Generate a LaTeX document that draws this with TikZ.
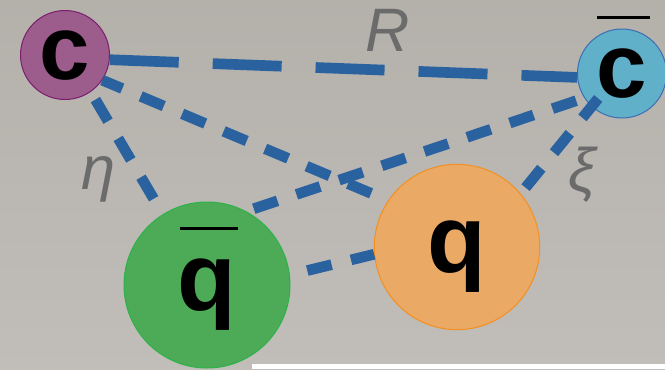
\documentclass[tikz,border=0pt]{standalone}
\usepackage{fontspec}
\setmainfont{Liberation Sans}
\definecolor{bgtop}{HTML}{B4B0AA}
\definecolor{bgbot}{HTML}{C1BDB9}
\definecolor{linkblue}{HTML}{2A62A0}
\definecolor{labelgray}{HTML}{6B6B6B}
\definecolor{cfill}{HTML}{9C5C8C}
\definecolor{cborder}{HTML}{7B1E6E}
\definecolor{cbfill}{HTML}{5FB0C8}
\definecolor{cbborder}{HTML}{3D6EB4}
\definecolor{qbfill}{HTML}{4DAB57}
\definecolor{qbborder}{HTML}{2BB24A}
\definecolor{qfill}{HTML}{EBA966}
\definecolor{qborder}{HTML}{F39020}
\newcommand{\bartop}[4]{\rlap{\hspace*{#1}\smash{\rule[#3]{#2}{2.2pt}}}#4}
\tikzset{
  ball/.style={circle, inner sep=0pt, line width=0.75pt, text depth=0pt, font=\bfseries\fontsize{68}{68}\selectfont},
  bigball/.style={ball, font=\bfseries\fontsize{72}{72}\selectfont},
  link/.style={draw=linkblue, line width=8pt, dash pattern=on 18.75pt off 15pt},
  rlink/.style={draw=linkblue, line width=8pt, dash pattern=on 51.75pt off 25.5pt},
  sym/.style={text=labelgray, inner sep=0pt, font=\itshape\fontsize{46}{46}\selectfont}
}
\begin{document}
\begin{tikzpicture}[x=0.75pt, y=-0.75pt]
\useasboundingbox (0,0) rectangle (665,369);
\shade[top color=bgtop, bottom color=bgbot] (0,0) rectangle (665,369);
\fill[white] (252,364) rectangle (665,369);
% quarks
\node[ball, draw=cborder, fill=cfill, minimum size=66.75pt] (c) at (65,55) {c};
\node[ball, draw=cbborder, fill=cbfill, minimum size=66.75pt] (cb) at (622,73.5) {\bartop{0pt}{39.75pt}{59.5pt}{c}};
\node[bigball, draw=qbborder, fill=qbfill, minimum size=124.5pt] (qb) at (207,285) {\bartop{1.9pt}{43.5pt}{61pt}{q}};
\node[bigball, draw=qborder, fill=qfill, minimum size=124pt] (q) at (457,247) {q};
% labels
\node[sym] (R) at (388,30) {R};
\node[sym] (eta) at (99,179) {η};
\node[sym] (xi) at (582,175) {ξ};
% links
\draw[rlink] (c.-6) -- (cb.185);
\draw[link, dash phase=2.5pt] (c.-34) -- (q.146);
\draw[link, dash phase=27pt] (c.-55) -- (qb.122);
\draw[link, dash phase=27.75pt] (qb.62) -- (cb.-147);
\draw[link, dash phase=28pt] (q.40) -- ([shift={(-23,24)}]cb.center);
\draw[link, dash phase=20.3pt] (qb.7) -- (q.185);
\end{tikzpicture}
\end{document}
